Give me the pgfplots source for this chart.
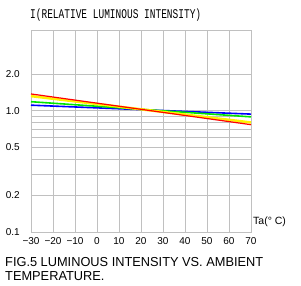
\documentclass[border=0pt]{standalone}
\usepackage{pgfplots}
\pgfplotsset{compat=1.18}
\usepackage{fontspec}
\setmainfont{Liberation Sans}
\newfontfamily\monofont{Liberation Mono}
\definecolor{gridgray}{RGB}{192,192,192}
\definecolor{ledgreen}{RGB}{0,230,0}
\begin{document}
\newlength\capw%
\settowidth\capw{\fontsize{13}{15}\selectfont FIG.5 LUMINOUS INTENSITY VS. AMBIENT}%
\pgfmathsetmacro\capf{258/\capw}%
\begin{tikzpicture}
\path[use as bounding box] (-31pt,-54pt) rectangle (270pt,232pt);
\begin{axis}[
  scale only axis, width=220pt, height=202pt,
  at={(0,0)}, anchor=south west,
  xmin=-30, xmax=70, ymode=log, ymin=0.1, ymax=4.65,
  xtick={-30,-20,...,70},
  xticklabels={−30,−20,−10,0,10,20,30,40,50,60,70},
  ytick={0.1,0.2,0.5,1,2},
  yticklabels={0.1,0.2,0.5,1.0,2.0},
  minor ytick={0.3,0.4,0.6,0.7,0.8,0.9},
  grid=both,
  major grid style={gridgray, line width=0.8pt},
  minor grid style={gridgray, line width=0.8pt},
  axis line style={gridgray, line width=0.8pt},
  major tick length=0pt, minor tick length=0pt,
  tick label style={font=\fontsize{10}{12}\selectfont},
  xticklabel style={anchor=north, inner sep=0pt, yshift=-5pt},
  yticklabel style={anchor=east, inner sep=0pt, xshift=-11pt},
  clip=false,
]
\addplot[blue, line width=1.6pt] coordinates {(-30,1.114) (70,0.94)};
\addplot[ledgreen, line width=1.6pt] coordinates {(-30,1.19) (70,0.892)};
\addplot[yellow, line width=2.5pt] coordinates {(-30,1.323) (70,0.802)};
\addplot[red, line width=1.2pt] coordinates {(-30,1.379) (70,0.769)};
\node[anchor=base west, inner sep=0pt, xshift=-1pt, yshift=11.5pt] at (rel axis cs:0,1)
  {\scalebox{1}[1.4]{\monofont\fontsize{9.5}{11}\selectfont I(RELATIVE LUMINOUS INTENSITY)}};
\node[anchor=west, inner sep=0pt, xshift=2pt, font=\fontsize{10.5}{12}\selectfont] at (rel axis cs:1,0.05) {Ta(° C)};
\node[anchor=base west, inner sep=0pt, xshift=-26pt, yshift=-35pt] at (rel axis cs:0,0)
  {\scalebox{\capf}[1]{\fontsize{13}{15}\selectfont FIG.5 LUMINOUS INTENSITY VS. AMBIENT}};
\node[anchor=base west, inner sep=0pt, xshift=-26pt, yshift=-49pt] at (rel axis cs:0,0)
  {\scalebox{\capf}[1]{\fontsize{13}{15}\selectfont TEMPERATURE.}};
\end{axis}
\end{tikzpicture}
\end{document}
